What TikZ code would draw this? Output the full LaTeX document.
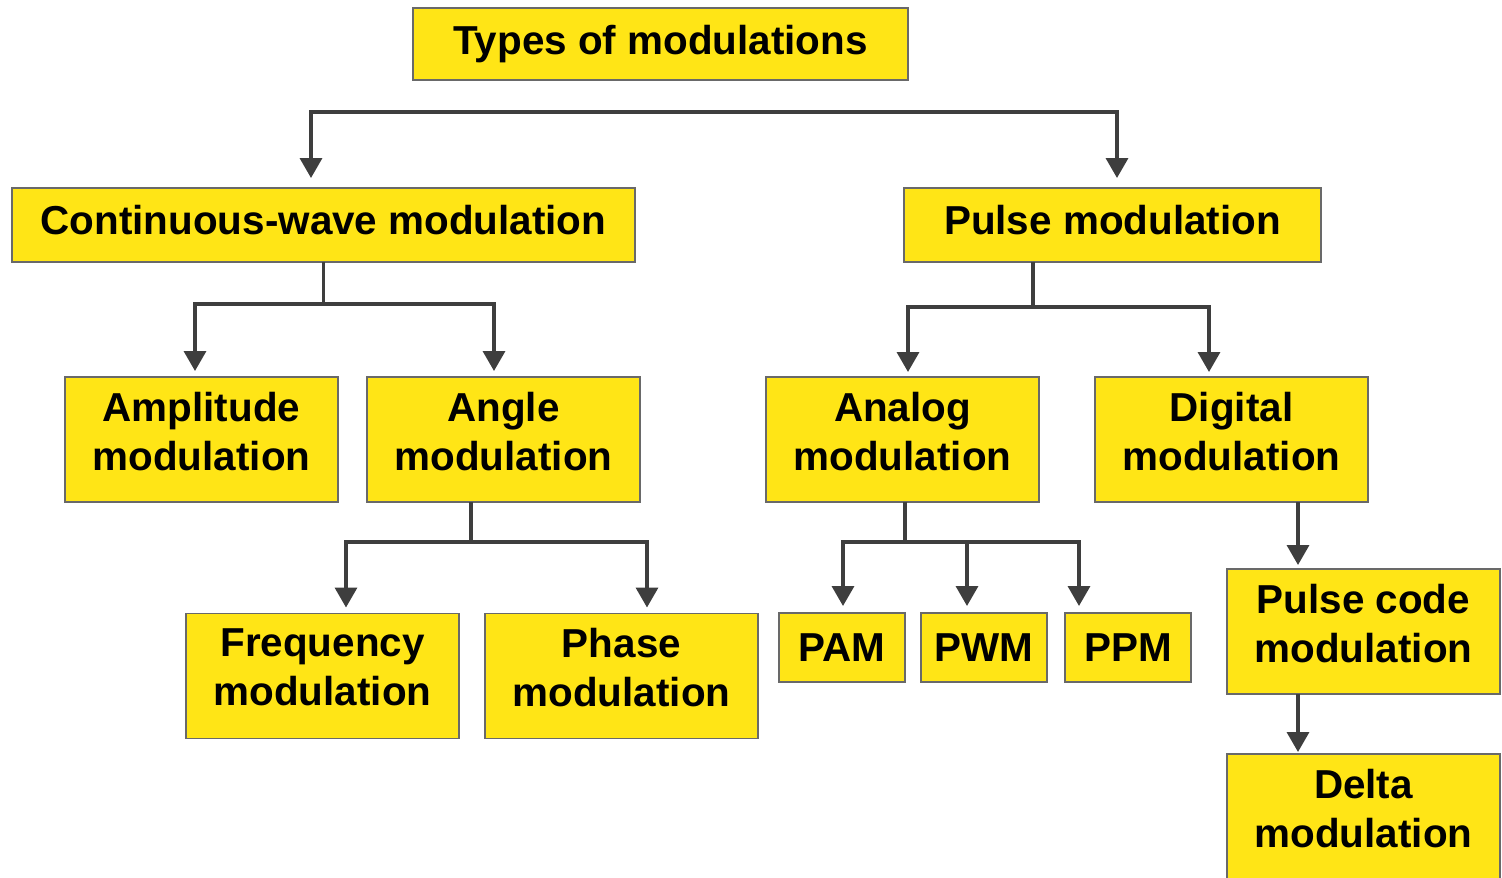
\documentclass[tikz,border=0pt]{standalone}
\usepackage{fontspec}
\setmainfont{Liberation Sans}
\usetikzlibrary{arrows.meta}

\definecolor{boxyellow}{RGB}{255,229,22}
\definecolor{boxedge}{RGB}{105,105,105}
\definecolor{wire}{RGB}{62,62,62}

\begin{document}
\begin{tikzpicture}[x=0.02cm,y=-0.02cm,>={Triangle[length=0.4cm,width=0.44cm]},
	box/.style={draw=boxedge,fill=boxyellow,line width=1.1pt,inner sep=0pt,outer sep=0pt,
		align=center,font=\bfseries\fontsize{23}{27.8}\selectfont},
	long/.style={box,minimum height=1.48cm,text depth=0.2cm},
	wide/.style={box,minimum width=5.46cm,minimum height=2.5cm,text depth=0.34cm},
	small/.style={box,minimum width=2.52cm,minimum height=1.38cm},
	link/.style={draw=wire,line width=2pt}]
	\useasboundingbox (0,0) rectangle (1502,878);

	\node[box,minimum width=9.9cm,minimum height=1.44cm] (types) at (660.5,44) {Types of modulations};
	\node[long,minimum width=12.46cm] (cw) at (323.5,225) {Continuous-wave modulation};
	\node[long,minimum width=8.34cm] (pulse) at (1112.5,225) {Pulse modulation};
	\node[wide] (amp) at (201.5,439.5) {Amplitude\\modulation};
	\node[wide] (angle) at (503.5,439.5) {Angle\\modulation};
	\node[wide] (analog) at (902.5,439.5) {Analog\\modulation};
	\node[wide] (digital) at (1231.5,439.5) {Digital\\modulation};
	\node[wide] (freq) at (322.5,676) {Frequency\\modulation};
	\node[wide] (phase) at (621.5,676) {Phase\\modulation};
	\node[small] (pam) at (842,647.5) {PAM};
	\node[small] (pwm) at (984,647.5) {PWM};
	\node[small] (ppm) at (1128,647.5) {PPM};
	\node[wide] (pcm) at (1363.5,631.5) {Pulse code\\modulation};
	\node[wide] (delta) at (1363.5,816.5) {Delta\\modulation};

	% bus under the title
	\coordinate (topl) at (311,112);
	\coordinate (topr) at (1117,112);
	\draw[link,<->,shorten <=0.2cm,shorten >=0.2cm] (topl |- cw.north) -- (topl) -- (topr) -- (topr |- pulse.north);

	% continuous wave
	\coordinate (cwl) at (195,304);
	\coordinate (cwr) at (494,304);
	\draw[link] (cw.south) -- (cw.south |- cwl);
	\draw[link,<->,shorten <=0.12cm,shorten >=0.12cm] (cwl |- amp.north) -- (cwl) -- (cwr) -- (cwr |- angle.north);

	% pulse
	\coordinate (pul) at (908,307);
	\coordinate (pur) at (1209,307);
	\draw[link] (pulse.south -| 1033,0) -- (pul -| 1033,0);
	\draw[link,<->,shorten <=0.1cm,shorten >=0.1cm] (pul |- analog.north) -- (pul) -- (pur) -- (pur |- digital.north);

	% angle
	\coordinate (anglel) at (346,542);
	\coordinate (angler) at (647,542);
	\draw[link] (angle.south -| 471,0) -- (anglel -| 471,0);
	\draw[link,<->,shorten <=0.12cm,shorten >=0.12cm] (anglel |- freq.north) -- (anglel) -- (angler) -- (angler |- phase.north);

	% analog
	\coordinate (anl) at (843,542);
	\coordinate (anm) at (967,542);
	\coordinate (anr) at (1079,542);
	\draw[link] (analog.south -| 905,0) -- (anl -| 905,0);
	\draw[link,<->,shorten <=0.14cm,shorten >=0.14cm] (anl |- pam.north) -- (anl) -- (anr) -- (anr |- ppm.north);
	\draw[link,->,shorten >=0.14cm] (anm) -- (anm |- pwm.north);

	% digital
	\coordinate (dig) at (1298,0);
	\draw[link,->,shorten >=0.08cm] (digital.south -| dig) -- (pcm.north -| dig);
	\draw[link,->,shorten >=0.04cm] (pcm.south -| dig) -- (delta.north -| dig);
\end{tikzpicture}
\end{document}
